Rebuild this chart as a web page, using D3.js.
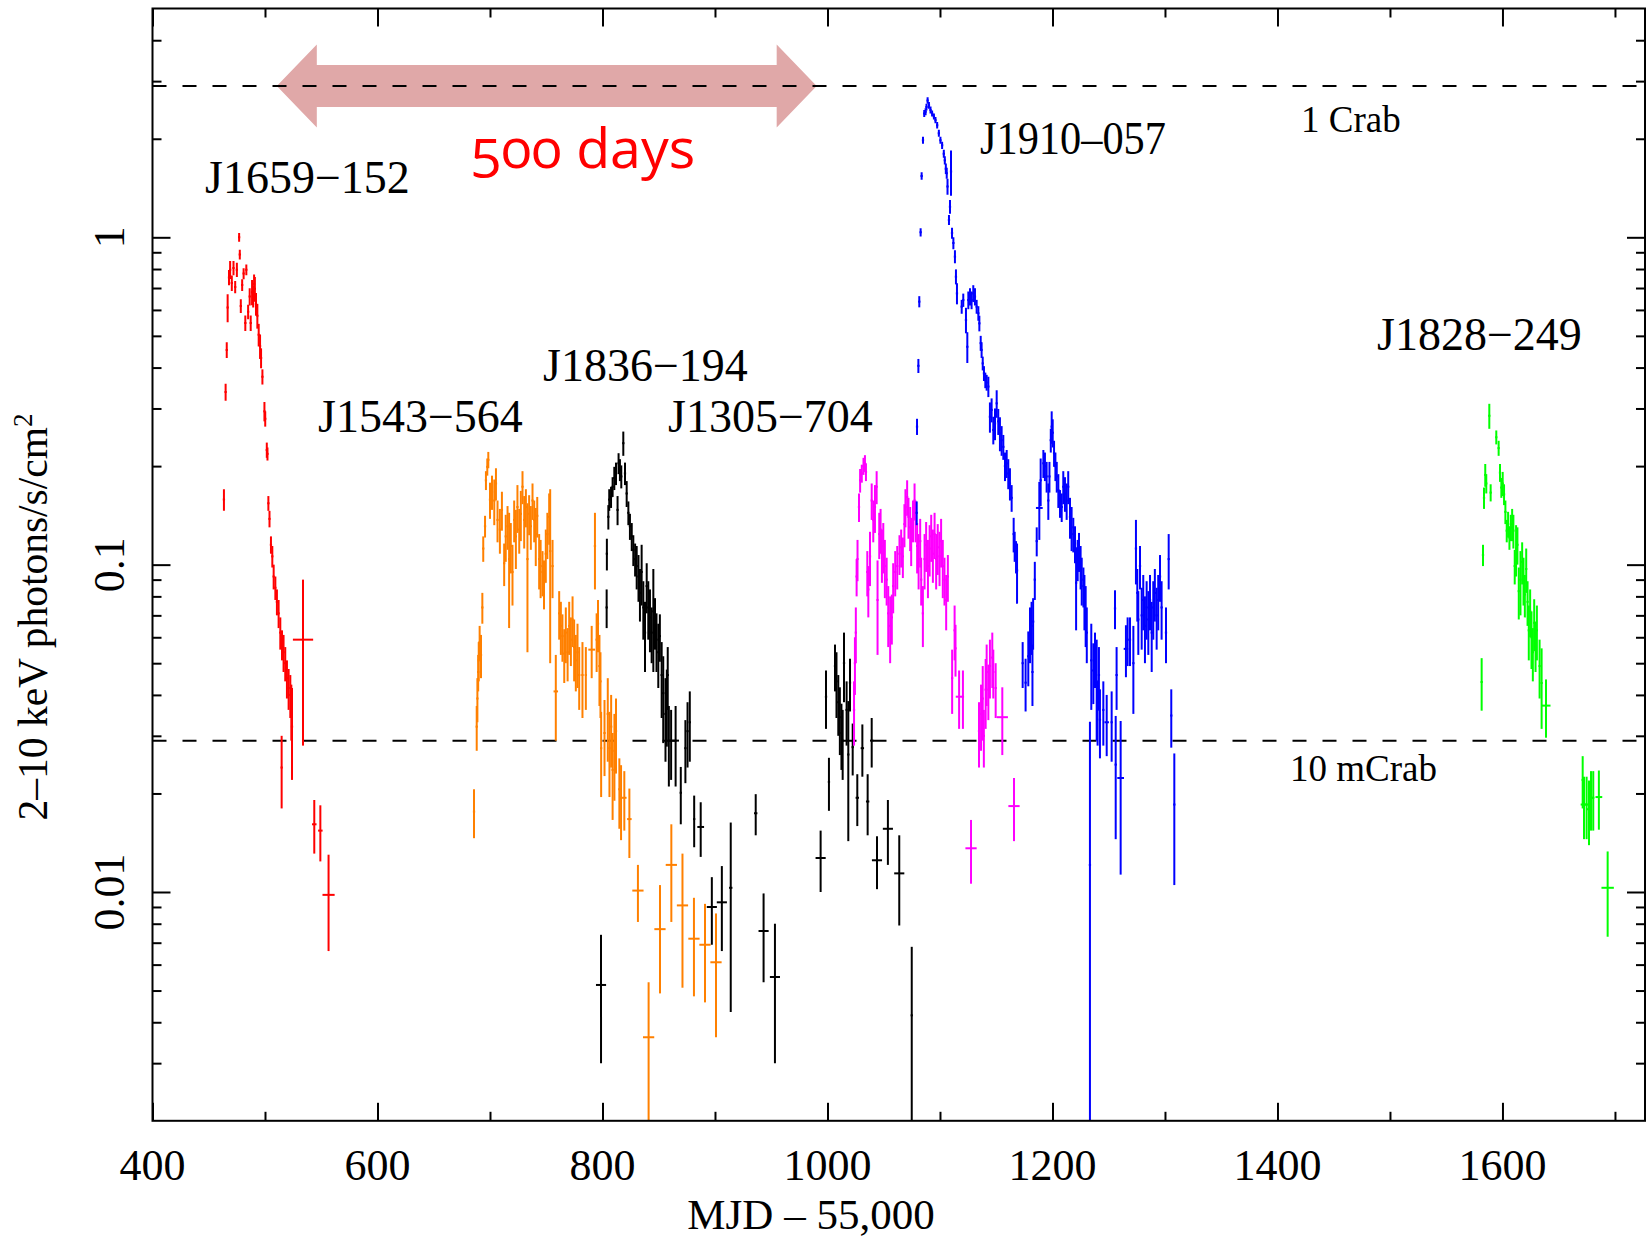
<!DOCTYPE html>
<html>
<head>
<meta charset="utf-8">
<script src="https://cdn.jsdelivr.net/npm/d3@7"></script>
<style>
  body { margin: 0; background: #fff; overflow: hidden; }
  svg { display: block; }
  text { font-family: "Liberation Serif", "Times New Roman", serif; fill: #000; }
</style>
</head>
<body>
<div id="chart"></div>
<script>
// each point: [MJD - 55000, half width in days, flux, flux error]
var j1659 = [
  [463.5,1,0.158,0.012],[465,1,0.337,0.02],[466,1,0.453,0.025],[466.8,1,0.61,0.06],
  [468,1,0.754,0.04],[469,1,0.796,0.05],[470.5,1,0.725,0.04],[472,1,0.806,0.04],
  [473.5,1,0.705,0.03],[475,1,0.796,0.04],[477,1,1.0,0.03],[477.6,1,0.886,0.03],
  [478.5,1,0.617,0.03],[479.7,1,0.715,0.03],[481,1,0.775,0.03],[482.5,1,0.547,0.03],
  [483.4,1,0.796,0.03],[485,1,0.592,0.03],[486.4,1,0.659,0.04],[487.3,1,0.547,0.03],
  [488.5,1,0.68,0.06],[489.5,1,0.66,0.05],[490.3,1,0.72,0.05],[491,1,0.696,0.06],
  [492,1,0.626,0.05],[493.2,1,0.576,0.05],[494.4,1,0.504,0.04],[495.6,1,0.465,0.04],
  [496.5,1,0.428,0.03],[497.7,1,0.375,0.02],[499.5,1,0.294,0.02],[500.2,1,0.279,0.015],
  [501.6,1,0.224,0.012],[502.2,1,0.218,0.01],[503,1,0.154,0.008],[504,1,0.138,0.008],
  [505.3,1,0.115,0.007],[506.5,1,0.106,0.008],[507.7,1,0.092,0.008],[509.2,1,0.085,0.007],
  [510.6,1,0.077,0.007],[512.1,1,0.071,0.007],[513.6,1,0.062,0.007],[515.1,1,0.057,0.006],
  [516.5,1,0.054,0.007],[518,1,0.05,0.006],[519.5,1,0.045,0.006],[521,1,0.042,0.006],
  [522.5,1,0.04,0.006],[523.4,1,0.036,0.007],[524,1,0.032,0.01],[514.8,1,0.024,0.006],
  [533.8,9,0.059,0.031],[543.8,2,0.0161,0.003],[549.2,2,0.0154,0.003],[556.5,5.4,0.0098,0.0032]
];

var j1543 = [
  [685.8,1,0.0176,0.003],[688.2,1,0.032,0.005],[688.8,1,0.039,0.006],[689.5,1,0.047,0.006],
  [690,1,0.051,0.007],[690.8,1,0.058,0.007],[692,1,0.053,0.008],[693.2,1,0.074,0.008],
  [694,1,0.112,0.01],[695.6,1,0.131,0.01],[696.4,1,0.181,0.012],[697.6,1,0.199,0.012],
  [698.5,1,0.209,0.012],[700,1,0.158,0.02],[701.8,1,0.167,0.02],[703.8,1,0.157,0.025],
  [705.3,1,0.177,0.02],[706.7,1,0.137,0.02],[708.8,1,0.128,0.02],[710.6,1,0.147,0.02],
  [712.6,1,0.101,0.015],[714,1,0.122,0.02],[715.6,1,0.131,0.02],[717,1,0.104,0.04],
  [718.5,1,0.114,0.02],[720,1,0.095,0.02],[721.5,1,0.137,0.02],[723,1,0.122,0.025],
  [724.4,1,0.15,0.025],[726,1,0.128,0.02],[727.4,1,0.143,0.025],[728.9,1,0.173,0.02],
  [730.4,1,0.137,0.025],[731.9,1,0.15,0.02],[733.3,1,0.104,0.05],[734.8,1,0.143,0.02],
  [736.3,1,0.131,0.02],[737.8,1,0.157,0.02],[739.3,1,0.137,0.02],[740.7,1,0.124,0.025],
  [742,1,0.141,0.02],[743.7,1,0.104,0.02],[745,1,0.099,0.02],[746.7,1,0.095,0.015],
  [748,1,0.088,0.015],[749.6,1,0.108,0.02],[751,1,0.124,0.02],[752.6,1,0.14,0.025],
  [753.5,1,0.11,0.06],[755.6,1,0.099,0.02],[758.5,2,0.041,0.012],[761.5,1,0.071,0.012],
  [763,1,0.065,0.012],[764.4,1,0.0605,0.01],[766,1,0.0535,0.01],[767.4,1,0.062,0.012],
  [769,1,0.054,0.01],[770.4,1,0.065,0.012],[771.9,1,0.059,0.01],[773.4,1,0.068,0.012],
  [774.8,1,0.056,0.012],[776.3,1,0.051,0.01],[777.8,1,0.054,0.012],[779.3,1,0.046,0.01],
  [782.2,1,0.046,0.012],[785.2,1,0.046,0.01],[790.4,3,0.055,0.01],[793.3,1,0.114,0.03],
  [794.8,1,0.059,0.012],[796,1,0.066,0.012],[797.3,1,0.049,0.012],[798.2,1,0.044,0.01],
  [798.8,1,0.0275,0.008],[801.8,1,0.0306,0.008],[804.7,1,0.035,0.01],[806.2,1,0.0275,0.008],
  [807.7,1,0.032,0.008],[809,1,0.0236,0.007],[810.6,1,0.027,0.008],[812,1,0.031,0.008],
  [815,1,0.0206,0.005],[816.5,1,0.0194,0.005],[819.4,2,0.0194,0.004],[823.9,2,0.0167,0.004],
  [831.5,5,0.0101,0.002],[841,5,0.0036,0.0017],[851.1,5,0.0077,0.0028],[861.2,5,0.0121,0.004],
  [871.1,5,0.0091,0.004],[881.3,5,0.0072,0.0024],[891.1,5,0.0069,0.0023],[900.9,5,0.0061,0.0025]
];

var j1836 = [
  [798.7,4.5,0.0052,0.0022],[803.7,1,0.074,0.01],[803.9,1,0.108,0.012],[805.2,1,0.14,0.012],
  [806,1,0.158,0.012],[807.6,1,0.161,0.012],[809,1,0.173,0.012],[810.5,1,0.184,0.015],
  [812,1,0.19,0.015],[813.4,1,0.147,0.015],[814.3,1,0.204,0.015],[815.5,1,0.195,0.015],
  [816.7,1,0.186,0.015],[818.5,1,0.235,0.02],[820,1,0.19,0.015],[821.5,1,0.165,0.015],
  [823,1,0.144,0.012],[824.4,1,0.131,0.012],[826,1,0.122,0.012],[827.4,1,0.111,0.012],
  [829,1,0.104,0.012],[830.4,1,0.099,0.015],[832,1,0.092,0.015],[833.3,1,0.082,0.015],
  [834.8,1,0.095,0.02],[836.3,1,0.074,0.015],[837.8,1,0.062,0.015],[839.3,1,0.086,0.015],
  [840.7,1,0.074,0.015],[842.2,1,0.069,0.015],[843.7,1,0.062,0.012],[845.2,1,0.072,0.025],
  [846.7,1,0.067,0.012],[848,1,0.059,0.012],[849.6,1,0.054,0.012],[851,1,0.0605,0.01],
  [852.6,1,0.046,0.012],[854,1,0.0405,0.012],[856,1,0.035,0.01],[857.2,1,0.0378,0.01],
  [858,1,0.046,0.01],[859,1,0.029,0.008],[861,1,0.029,0.007],[865,3,0.029,0.008],
  [869.6,1,0.0201,0.004],[873.7,1,0.0275,0.006],[875.6,1,0.031,0.007],[877.6,1,0.033,0.008],
  [881.5,1,0.0167,0.003],[887.3,3,0.0158,0.003],[897.2,4.5,0.009,0.0021],[906.1,4.5,0.0093,0.0027],
  [914,1.5,0.0103,0.006],[936.2,1.5,0.0174,0.0025],[943.2,4.5,0.0076,0.0023],[953.3,4.5,0.0055,0.0025],
  [993.9,4.5,0.0127,0.0027],[998.7,1,0.0395,0.008],[1001.3,1,0.0217,0.004],[1006.7,1,0.049,0.008],
  [1008,1,0.044,0.01],[1009.6,1,0.038,0.008],[1011,1,0.0342,0.008],[1012.4,1,0.0306,0.007],
  [1013.5,1,0.029,0.007],[1014.7,1,0.05,0.012],[1017,1,0.036,0.008],[1018.5,1,0.0263,0.012],
  [1020,1,0.0436,0.008],[1022.4,1,0.0277,0.005],[1026.5,1.5,0.0194,0.0035],[1031,1.5,0.0275,0.005],
  [1035.7,1.5,0.0189,0.004],[1039.3,1.5,0.029,0.005],[1044,4.5,0.0125,0.0023],[1053.7,4.5,0.0156,0.0035],
  [1063.8,4.5,0.0114,0.0035],[1074.9,1,0.0042,0.0026]
];

var j1305 = [
  [1023.6,1,0.036,0.008],[1024.4,1,0.05,0.01],[1025.2,1,0.062,0.012],[1025.9,1,0.092,0.012],
  [1026.7,1,0.104,0.015],[1028,1,0.15,0.015],[1029,1,0.181,0.015],[1030.5,1,0.19,0.012],
  [1032,1,0.2,0.012],[1033.3,1,0.204,0.012],[1034.2,1,0.192,0.012],[1035.4,1,0.095,0.015],
  [1036.3,1,0.084,0.015],[1037.8,1,0.106,0.02],[1039.3,1,0.157,0.02],[1040.7,1,0.137,0.02],
  [1042.2,1,0.15,0.025],[1043.7,1,0.173,0.02],[1044.5,1,0.078,0.025],[1046,1,0.124,0.02],
  [1047.2,1,0.128,0.02],[1048.4,1,0.108,0.02],[1049.6,1,0.114,0.02],[1051,1,0.099,0.02],
  [1052.6,1,0.09,0.015],[1054,1,0.071,0.015],[1055.7,1,0.065,0.015],[1057.2,1,0.069,0.012],
  [1058.4,1,0.086,0.015],[1060.2,1,0.095,0.015],[1062,1,0.099,0.015],[1064,1,0.108,0.015],
  [1065.5,1,0.113,0.015],[1067,1,0.106,0.015],[1068.4,1,0.133,0.02],[1069.3,1,0.15,0.02],
  [1070.8,1,0.161,0.02],[1072,1,0.14,0.02],[1073.5,1,0.13,0.02],[1074.4,1,0.119,0.02],
  [1076,1,0.137,0.02],[1077.4,1,0.157,0.02],[1078.3,1,0.137,0.02],[1079.7,1,0.114,0.02],
  [1081,1,0.104,0.02],[1082.4,1,0.118,0.02],[1083.3,1,0.09,0.015],[1084.8,1,0.071,0.015],
  [1086.3,1,0.104,0.02],[1087.7,1,0.115,0.02],[1089.3,1,0.099,0.02],[1090.8,1,0.112,0.02],
  [1092.2,1,0.122,0.02],[1093.7,1,0.108,0.02],[1095.2,1,0.124,0.02],[1096.6,1,0.104,0.02],
  [1098,1,0.113,0.02],[1099.6,1,0.106,0.02],[1101,1,0.118,0.02],[1102.5,1,0.099,0.02],
  [1104,1,0.09,0.015],[1105.5,1,0.078,0.015],[1107,1,0.092,0.015],[1110.8,1,0.045,0.01],
  [1113,1,0.063,0.012],[1113.8,1,0.0555,0.01],[1117,3,0.0395,0.008],[1120.4,1,0.0395,0.008],
  [1127.6,5,0.0136,0.003],[1134.7,1,0.031,0.007],[1136.5,1,0.035,0.008],[1138,1,0.039,0.01],
  [1139,1,0.03,0.006],[1140.6,1,0.0415,0.01],[1141.5,1,0.047,0.01],[1143,1,0.0415,0.008],
  [1144.4,1,0.049,0.01],[1146.5,1,0.052,0.01],[1147.4,1,0.047,0.008],[1149.5,1,0.042,0.008],
  [1155.4,5,0.0342,0.008],[1165.8,5,0.0183,0.004]
];

var j1910 = [
  [1079.3,1,0.144,0.012],[1079.6,1,0.264,0.015],[1080.8,1,0.405,0.02],[1081.6,1,0.636,0.025],
  [1082.8,1,1.036,0.03],[1083.7,1,1.54,0.04],[1084.9,1,1.98,0.05],[1086,1,2.39,0.06],
  [1087.2,1,2.42,0.06],[1088,1,2.5,0.06],[1089,1,2.62,0.06],[1090.2,1,2.53,0.06],
  [1091.6,1,2.45,0.06],[1093,1,2.39,0.05],[1094.6,1,2.34,0.05],[1096,1,2.28,0.05],
  [1097.5,1,2.2,0.05],[1099,1,2.08,0.05],[1100.4,1,1.98,0.05],[1101.9,1,1.91,0.05],
  [1103.4,1,1.8,0.05],[1104.3,1,1.72,0.05],[1105.2,1,1.62,0.06],[1106,1,1.57,0.06],
  [1106.7,1,1.43,0.08],[1108,1,1.13,0.04],[1108.9,1,1.24,0.06],[1109.8,1,1.59,0.25],
  [1110.7,1,1.03,0.04],[1111.9,1,0.96,0.04],[1113.3,1,0.873,0.04],[1114.2,1,0.758,0.04],
  [1115.1,1,0.674,0.05],[1119.3,1,0.614,0.03],[1120.7,1,0.643,0.03],[1123.1,1,0.559,0.05],
  [1124.3,1,0.463,0.05],[1125.2,1,0.643,0.04],[1126.7,1,0.659,0.04],[1128.1,1,0.643,0.04],
  [1129.6,1,0.674,0.04],[1131.1,1,0.659,0.04],[1132.6,1,0.614,0.03],[1134.1,1,0.586,0.03],
  [1135,1,0.546,0.03],[1136.2,1,0.475,0.025],[1137,1,0.453,0.025],[1138,1,0.412,0.02],
  [1139.1,1,0.384,0.02],[1140.3,1,0.366,0.02],[1141.5,1,0.36,0.02],[1143,1,0.35,0.025],
  [1144.4,1,0.283,0.03],[1145.9,1,0.297,0.025],[1147.4,1,0.258,0.025],[1148.9,1,0.27,0.03],
  [1150.4,1,0.311,0.03],[1151.8,1,0.274,0.025],[1153.3,1,0.252,0.03],[1154.8,1,0.24,0.025],
  [1156.3,1,0.229,0.02],[1157.8,1,0.2,0.02],[1159.3,1,0.204,0.02],[1160.7,1,0.19,0.02],
  [1162.2,1,0.177,0.02],[1163.7,1,0.16,0.015],[1165.5,1,0.124,0.015],[1166.4,1,0.114,0.012],
  [1167.6,1,0.106,0.012],[1168.5,1,0.096,0.02],[1173.5,1,0.05,0.008],[1176.1,1,0.0436,0.008],
  [1178.5,1,0.0525,0.01],[1180,1,0.062,0.012],[1181.4,1,0.065,0.012],[1182.2,1,0.047,0.01],
  [1182.8,1,0.067,0.012],[1184.3,1,0.09,0.012],[1186,1,0.118,0.012],[1188.3,3,0.149,0.03],
  [1189.5,1,0.181,0.03],[1191.9,1,0.204,0.02],[1193.3,1,0.2,0.02],[1194.8,1,0.186,0.02],
  [1196.3,1,0.157,0.02],[1197.3,1,0.186,0.02],[1198.5,1,0.24,0.02],[1199.3,1,0.264,0.03],
  [1200.2,1,0.253,0.025],[1201.4,1,0.219,0.02],[1202.6,1,0.2,0.02],[1203.8,1,0.186,0.02],
  [1205.2,1,0.169,0.02],[1206.7,1,0.154,0.015],[1208.2,1,0.15,0.015],[1209.6,1,0.173,0.02],
  [1211.1,1,0.165,0.02],[1212.6,1,0.157,0.02],[1214,1,0.173,0.02],[1215.6,1,0.14,0.02],
  [1217,1,0.13,0.02],[1218.5,1,0.124,0.015],[1220,1,0.116,0.015],[1221,1,0.088,0.025],
  [1222.4,1,0.104,0.015],[1223.6,1,0.11,0.015],[1225,1,0.099,0.015],[1226,1,0.09,0.015],
  [1227.5,1,0.086,0.012],[1228.4,1,0.078,0.015],[1229.5,1,0.071,0.015],[1230.5,1,0.062,0.012],
  [1233.3,1,0.0121,0.021],[1234.5,1,0.051,0.015],[1236.3,1,0.0475,0.01],[1237.8,1,0.052,0.01],
  [1239.3,1,0.044,0.015],[1240.1,1,0.036,0.008],[1241.3,1,0.046,0.01],[1242.2,1,0.0336,0.008],
  [1245.2,1,0.036,0.008],[1248.2,2,0.033,0.007],[1252.6,1,0.033,0.008],[1255.6,1,0.0735,0.01],
  [1256.2,1,0.0245,0.01],[1257,1,0.046,0.01],[1260.6,3,0.0223,0.011],[1265.3,2,0.0553,0.01],
  [1266.8,1,0.059,0.01],[1268.9,1,0.059,0.01],[1271.9,1,0.05,0.015],[1274.2,1,0.112,0.025],
  [1275.4,1,0.082,0.015],[1276.3,1,0.068,0.015],[1277.8,1,0.099,0.015],[1279.3,1,0.07,0.015],
  [1280.7,1,0.078,0.015],[1282.2,1,0.065,0.015],[1283.7,1,0.074,0.015],[1285.2,1,0.068,0.015],
  [1286.7,1,0.078,0.015],[1288.2,1,0.062,0.015],[1289.6,1,0.074,0.015],[1291,1,0.082,0.015],
  [1292.6,1,0.07,0.015],[1294,1,0.078,0.015],[1295.6,1,0.092,0.015],[1297,1,0.074,0.015],
  [1300.9,1,0.062,0.012],[1303.3,1,0.104,0.02],[1305.6,1,0.0346,0.007],[1308.3,1,0.0185,0.008]
];

var j1828 = [
  [1581.5,1,0.0438,0.008],[1582.7,1,0.107,0.008],[1583.6,1,0.16,0.012],[1584.7,1,0.188,0.015],
  [1585.6,1,0.177,0.012],[1588.3,1,0.285,0.025],[1589.5,1,0.166,0.01],[1594.5,1,0.245,0.012],
  [1596.6,1,0.227,0.012],[1597.8,1,0.191,0.012],[1599,1,0.172,0.012],[1600.2,1,0.177,0.015],
  [1601.4,1,0.164,0.012],[1602.6,1,0.145,0.012],[1603.8,1,0.127,0.01],[1605,1,0.133,0.012],
  [1606.2,1,0.121,0.01],[1607.4,1,0.13,0.012],[1608.6,1,0.133,0.015],[1609.7,1,0.127,0.015],
  [1610.9,1,0.099,0.012],[1612.1,1,0.112,0.02],[1613.3,1,0.115,0.015],[1614.5,1,0.083,0.015],
  [1616,1,0.09,0.02],[1617.5,1,0.102,0.015],[1618.7,1,0.09,0.015],[1619.9,1,0.081,0.012],
  [1621.1,1,0.097,0.015],[1622.3,1,0.077,0.012],[1623.4,1,0.063,0.012],[1624.6,1,0.072,0.012],
  [1625.8,1,0.06,0.012],[1627,1,0.054,0.01],[1628.2,1,0.0664,0.012],[1629.4,1,0.057,0.01],
  [1630.6,1,0.063,0.012],[1633,1,0.049,0.01],[1634.8,1,0.0435,0.012],[1638.7,4,0.0371,0.0075],
  [1671.3,1,0.022,0.004],[1672.5,3,0.0185,0.004],[1674.8,2,0.0185,0.004],[1676.9,2,0.0179,0.004],
  [1678.7,2,0.0194,0.004],[1680.7,1,0.0194,0.004],[1685.7,3,0.0195,0.004],[1693.5,5.5,0.0103,0.003]
];

var sourceNames = ["J1659\u2212152", "J1543\u2212564", "J1836\u2212194", "J1305\u2212704", "J1910\u2013057", "J1828\u2212249"];
var sourceColors = ["#ff0000", "#ff8000", "#000000", "#ff00ff", "#0000ff", "#00ff00"];
var sourceData = [j1659, j1543, j1836, j1305, j1910, j1828];

var xMajor = [400, 600, 800, 1000, 1200, 1400, 1600];
var xMinor = [500, 700, 900, 1100, 1300, 1500, 1700];
var yMajor = [0.01, 0.1, 1];
var yMajorLabels = ["0.01", "0.1", "1"];
var decades = [0.001, 0.01, 0.1, 1];
var mantissas = [2, 3, 4, 5, 6, 7, 8, 9];

var crabLevels = [2.9, 0.029];
var crabLabels = ["1 Crab", "10 mCrab"];
var arrowDays = [510.5, 990.4];

var width = 1646,
    height = 1240,
    margin = {top: 8.5, right: 1, bottom: 119.2, left: 152.5},
    innerWidth = width - margin.left - margin.right,
    innerHeight = height - margin.top - margin.bottom;

var xScale = d3.scaleLinear().domain([400, 1726.7]).range([0, innerWidth]);
var yScale = d3.scaleLog().domain([0.002, 5]).range([innerHeight, 0]);
var yMin = 0.002, yMax = 5;

var yMinor = [];
decades.forEach(function (d) {
  mantissas.forEach(function (m) {
    var v = +(d * m).toPrecision(3);
    if (v > yMin && v < yMax) yMinor.push(v);
  });
});

var svg = d3.select("#chart").append("svg")
  .attr("width", width)
  .attr("height", height);

svg.append("rect").attr("width", width).attr("height", height).attr("fill", "#fff");

var g = svg.append("g")
  .attr("transform", "translate(" + margin.left + "," + margin.top + ")");

g.append("clipPath").attr("id", "plotclip")
  .append("rect").attr("width", innerWidth).attr("height", innerHeight);

// "500 days" arrow, sits under the dashed lines
var ay = yScale(crabLevels[0]),
    ax0 = xScale(arrowDays[0]),
    ax1 = xScale(arrowDays[1]),
    headLen = 40, headHalf = 41.5, shaftHalf = 21;
var arrowPts = [
  [ax0, ay], [ax0 + headLen, ay - headHalf], [ax0 + headLen, ay - shaftHalf],
  [ax1 - headLen, ay - shaftHalf], [ax1 - headLen, ay - headHalf], [ax1, ay],
  [ax1 - headLen, ay + headHalf], [ax1 - headLen, ay + shaftHalf],
  [ax0 + headLen, ay + shaftHalf], [ax0 + headLen, ay + headHalf]
];
g.append("path")
  .attr("d", d3.line()(arrowPts) + "Z")
  .attr("fill", "#e0a8a8");

// crab level lines
g.selectAll(".crab")
  .data(crabLevels)
  .enter().append("line")
  .attr("class", "crab")
  .attr("x1", 0).attr("x2", innerWidth)
  .attr("y1", function (d) { return yScale(d); })
  .attr("y2", function (d) { return yScale(d); })
  .attr("stroke", "#000")
  .attr("stroke-width", 2)
  .attr("stroke-dasharray", "14,16");

// light curves as error crosses
var marks = g.append("g").attr("clip-path", "url(#plotclip)");
sourceData.forEach(function (data, i) {
  var s = marks.append("g")
    .attr("stroke", sourceColors[i])
    .attr("stroke-width", 2);

  s.selectAll(".ey")
    .data(data)
    .enter().append("line")
    .attr("class", "ey")
    .attr("x1", function (d) { return xScale(d[0]); })
    .attr("x2", function (d) { return xScale(d[0]); })
    .attr("y1", function (d) { return yScale(Math.min(d[2] + d[3], yMax)); })
    .attr("y2", function (d) { return yScale(Math.max(d[2] - d[3], yMin)); });

  s.selectAll(".ex")
    .data(data)
    .enter().append("line")
    .attr("class", "ex")
    .attr("x1", function (d) { return xScale(d[0] - d[1]); })
    .attr("x2", function (d) { return xScale(d[0] + d[1]); })
    .attr("y1", function (d) { return yScale(d[2]); })
    .attr("y2", function (d) { return yScale(d[2]); });
});

// axes, ticks point inward on all four sides
function tickAxis(axis, values, size) {
  return axis.tickValues(values).tickSize(-size).tickFormat("");
}
var axes = [
  [d3.axisBottom(xScale), xMajor, 18, "translate(0," + innerHeight + ")"],
  [d3.axisBottom(xScale), xMinor, 9, "translate(0," + innerHeight + ")"],
  [d3.axisTop(xScale), xMajor, 18, null],
  [d3.axisTop(xScale), xMinor, 9, null],
  [d3.axisLeft(yScale), yMajor, 18, null],
  [d3.axisLeft(yScale), yMinor, 9, null],
  [d3.axisRight(yScale), yMajor, 18, "translate(" + innerWidth + ",0)"],
  [d3.axisRight(yScale), yMinor, 9, "translate(" + innerWidth + ",0)"]
];
axes.forEach(function (a) {
  var ag = g.append("g").call(tickAxis(a[0], a[1], a[2]));
  if (a[3]) ag.attr("transform", a[3]);
  ag.select(".domain").remove();
  ag.selectAll("text").remove();
  ag.selectAll("line").attr("stroke", "#000").attr("stroke-width", 2);
});

g.append("rect")
  .attr("width", innerWidth)
  .attr("height", innerHeight)
  .attr("fill", "none")
  .attr("stroke", "#000")
  .attr("stroke-width", 2);

// tick labels
svg.selectAll(".xlab")
  .data(xMajor)
  .enter().append("text")
  .attr("class", "xlab")
  .attr("x", function (d) { return margin.left + xScale(d); })
  .attr("y", 1180)
  .attr("text-anchor", "middle")
  .style("font-size", "44px")
  .text(function (d) { return d; });

svg.selectAll(".ylab")
  .data(yMajor)
  .enter().append("text")
  .attr("class", "ylab")
  .attr("transform", function (d) { return "translate(124," + (margin.top + yScale(d)) + ") rotate(-90)"; })
  .attr("text-anchor", "middle")
  .style("font-size", "44px")
  .text(function (d, i) { return yMajorLabels[i]; });

// axis titles
svg.append("text")
  .attr("x", 811)
  .attr("y", 1229)
  .attr("text-anchor", "middle")
  .style("font-size", "43px")
  .text("MJD \u2013 55,000");

var yt = svg.append("text")
  .attr("transform", "translate(47,617) rotate(-90)")
  .attr("text-anchor", "middle")
  .style("font-size", "41.5px");
yt.append("tspan").text("2\u201310 keV photons/s/cm");
yt.append("tspan").attr("dy", -15).style("font-size", "27px").text("2");

// source names
var namePos = [[205, 193], [318, 432], [543, 381], [668, 432], [980, 154], [1377, 350]];
sourceNames.forEach(function (n, i) {
  var t = svg.append("text")
    .attr("x", namePos[i][0])
    .attr("y", namePos[i][1])
    .style("font-size", "46px")
    .text(n);
  if (i === 4) t.attr("textLength", 186).attr("lengthAdjust", "spacingAndGlyphs");
});

// crab level labels
var crabPos = [[1301, 132], [1290, 781]];
crabLabels.forEach(function (c, i) {
  svg.append("text")
    .attr("x", crabPos[i][0])
    .attr("y", crabPos[i][1])
    .style("font-size", "37px")
    .text(c);
});

svg.append("text")
  .attr("x", 471)
  .attr("y", 168)
  .style("font-family", "'Open Sans', sans-serif")
  .style("font-size", "55.5px")
  .style("font-feature-settings", "'onum'")
  .style("fill", "#ff0000")
  .text("500 days");
</script>
</body>
</html>
